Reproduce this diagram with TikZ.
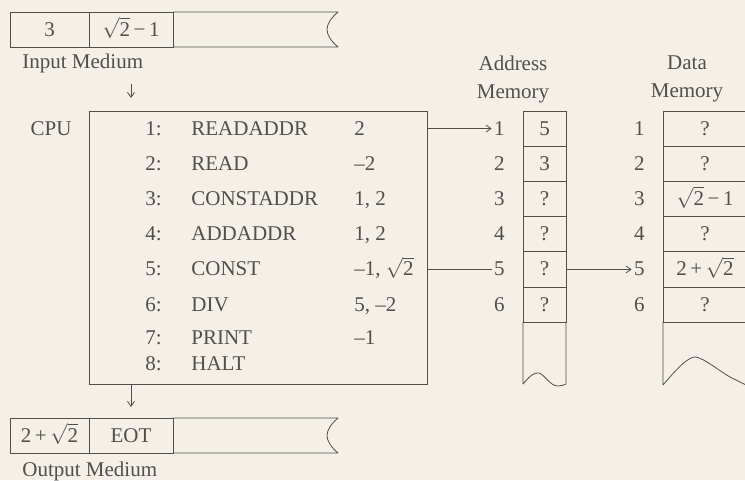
\documentclass[tikz,border=0pt]{standalone}
\usepackage{amsmath}
\usepackage{fontspec}
\setmainfont{Liberation Serif}
\usetikzlibrary{arrows.meta, positioning}

\definecolor{paper}{RGB}{244,240,232}
\definecolor{ink}{RGB}{82,78,74}

% root two, digit in the text font
\newcommand{\rtwo}{$\sqrt{\mbox{2}}$}

\begin{document}
\begin{tikzpicture}[
    x=1pt, y=-1pt,
    color=ink,
    font=\fontsize{21}{28}\selectfont,
    >={Straight Barb[length=5pt, width=7pt]},
    line width=0.8pt,
    % Node styles
    cellbox/.style={
        rectangle, draw=ink, outer sep=0pt, inner sep=0pt,
        minimum height=35pt,
        text height=15pt, text depth=2pt
    },
    membox/.style={
        rectangle, draw=ink, outer sep=0pt, inner sep=0pt,
        minimum height=35.2pt,
        text height=15pt, text depth=2pt
    },
    cpubox/.style={
        rectangle, draw=ink, outer sep=0pt,
        minimum width=338pt, minimum height=273pt
    },
    txt/.style={inner sep=2pt, text height=15pt, text depth=2pt},
    head/.style={inner sep=0pt, align=center},
    edge/.style={draw=ink, line join=round},
]

\path[use as bounding box, fill=paper] (0,0) rectangle (745,480);
\clip (0,0) rectangle (745,480);

%% ---- INPUT MEDIUM ----
\node[cellbox, minimum width=79pt] (in1) at (49.5, 29.5) {3};
\node[cellbox, minimum width=84pt, right=0pt of in1] (in2) {\rtwo\,−\,1};
\draw[edge] (in2.north east) -- (338,12) .. controls (331,18) and (327,24) .. (327,29.5)
    .. controls (327,35) and (331,41) .. (338,47) -- (in2.south east);
\node[txt, anchor=west] (inlbl) at (20, 62) {Input Medium};

%% ---- CPU ----
\node[cpubox] (cpu) at (258, 247.5) {};
\node[txt] (cpulbl) at (51, 128.6) {CPU};

\node[txt, anchor=east] (n1) at (164, 128.6) {1:};
\node[txt, anchor=west] (op1) at (189, 128.6) {READADDR};
\node[txt, anchor=west] (arg1) at (352, 128.6) {2};

\node[txt, anchor=east] (n2) at (164, 163.8) {2:};
\node[txt, anchor=west] (op2) at (189, 163.8) {READ};
\node[txt, anchor=west] (arg2) at (352, 163.8) {–2};

\node[txt, anchor=east] (n3) at (164, 199) {3:};
\node[txt, anchor=west] (op3) at (189, 199) {CONSTADDR};
\node[txt, anchor=west] (arg3) at (352, 199) {1, 2};

\node[txt, anchor=east] (n4) at (164, 234.2) {4:};
\node[txt, anchor=west] (op4) at (189, 234.2) {ADDADDR};
\node[txt, anchor=west] (arg4) at (352, 234.2) {1, 2};

\node[txt, anchor=east] (n5) at (164, 269.4) {5:};
\node[txt, anchor=west] (op5) at (189, 269.4) {CONST};
\node[txt, anchor=west] (arg5) at (352, 269.4) {–1, \rtwo};

\node[txt, anchor=east] (n6) at (164, 304.6) {6:};
\node[txt, anchor=west] (op6) at (189, 304.6) {DIV};
\node[txt, anchor=west] (arg6) at (352, 304.6) {5, –2};

\node[txt, anchor=east] (n7) at (164, 338) {7:};
\node[txt, anchor=west] (op7) at (189, 338) {PRINT};
\node[txt, anchor=west] (arg7) at (352, 338) {–1};

\node[txt, anchor=east] (n8) at (164, 364) {8:};
\node[txt, anchor=west] (op8) at (189, 364) {HALT};

%% ---- ADDRESS MEMORY ----
\node[head] (amhead) at (513, 79) {Address\\Memory};
\node[membox, minimum width=43pt] (a1) at (544.5, 128.6) {5};
\node[membox, minimum width=43pt, below=0pt of a1] (a2) {3};
\node[membox, minimum width=43pt, below=0pt of a2] (a3) {?};
\node[membox, minimum width=43pt, below=0pt of a3] (a4) {?};
\node[membox, minimum width=43pt, below=0pt of a4] (a5) {?};
\node[membox, minimum width=43pt, below=0pt of a5] (a6) {?};
\draw[edge] (a6.south west) -- (523,384) .. controls (530,376) and (534,372) .. (539,373)
    .. controls (545,375) and (550,386) .. (558,386) .. controls (561,386) and (564,385) .. (566,384)
    -- (a6.south east);

\node[txt, left=16pt of a1] (al1) {1};
\node[txt, left=16pt of a2] (al2) {2};
\node[txt, left=16pt of a3] (al3) {3};
\node[txt, left=16pt of a4] (al4) {4};
\node[txt, left=16pt of a5] (al5) {5};
\node[txt, left=16pt of a6] (al6) {6};

%% ---- DATA MEMORY ----
\node[head] (dmhead) at (687, 79) {Data\\Memory};
\node[membox, minimum width=84pt] (d1) at (705, 128.6) {?};
\node[membox, minimum width=84pt, below=0pt of d1] (d2) {?};
\node[membox, minimum width=84pt, below=0pt of d2] (d3) {\rtwo\,−\,1};
\node[membox, minimum width=84pt, below=0pt of d3] (d4) {?};
\node[membox, minimum width=84pt, below=0pt of d4] (d5) {2\,+\,\rtwo};
\node[membox, minimum width=84pt, below=0pt of d5] (d6) {?};
\draw[edge] (d6.south west) -- (663,385) .. controls (675,371) and (688,356) .. (696,357)
    .. controls (705,359) and (718,370) .. (730,377) -- (748,386);

\node[txt, left=16pt of d1] (dl1) {1};
\node[txt, left=16pt of d2] (dl2) {2};
\node[txt, left=16pt of d3] (dl3) {3};
\node[txt, left=16pt of d4] (dl4) {4};
\node[txt, left=16pt of d5] (dl5) {5};
\node[txt, left=16pt of d6] (dl6) {6};

%% ---- OUTPUT MEDIUM ----
\node[cellbox, minimum width=79pt] (out1) at (49.5, 435.5) {2\,+\,\rtwo};
\node[cellbox, minimum width=84pt, right=0pt of out1] (out2) {EOT};
\draw[edge] (out2.north east) -- (338,418) .. controls (331,424) and (327,430) .. (327,435.5)
    .. controls (327,441) and (331,447) .. (338,453) -- (out2.south east);
\node[txt, anchor=west] (outlbl) at (20, 470) {Output Medium};

%% ---- ARROWS ----
% Input -> CPU
\draw[->, shorten <=37pt, shorten >=13pt] (in2.south) -- (in2.south |- cpu.north);

% CPU -> Output
\draw[->, shorten >=11pt] (cpu.south -| out2) -- (out2.north);

% CPU -> address 1
\draw[->] (cpu.east |- a1) -- (al1);

% CPU -- address 5
\draw (cpu.east |- a5) -- (al5);

% address 5 -> data 5
\draw[->] (a5.east) -- (dl5);

\end{tikzpicture}
\end{document}
